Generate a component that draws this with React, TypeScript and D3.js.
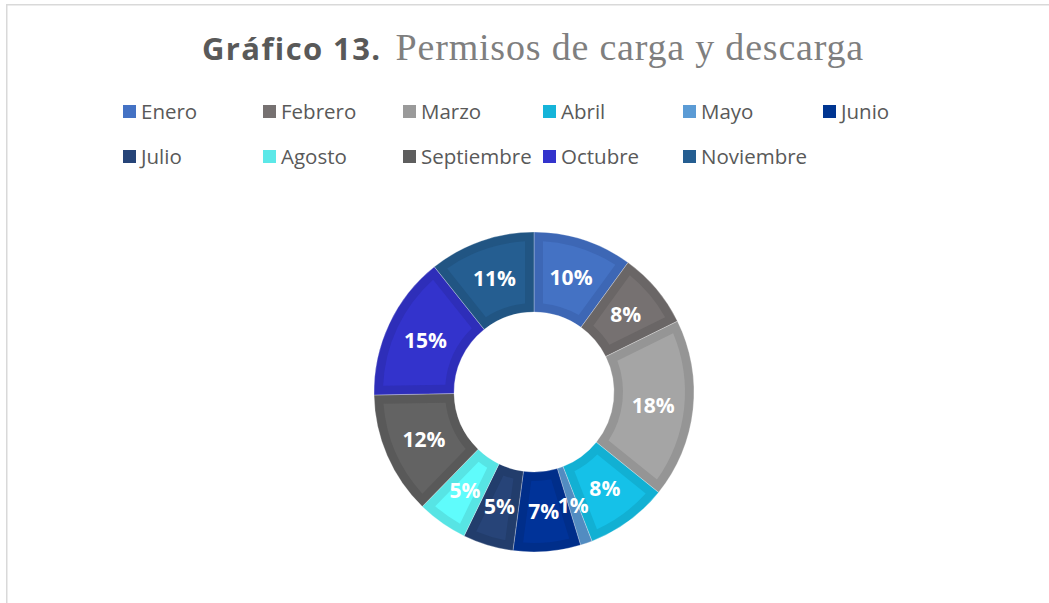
import React from "react";
import * as d3 from "d3";

const months = ["Enero", "Febrero", "Marzo", "Abril", "Mayo", "Junio", "Julio", "Agosto", "Septiembre", "Octubre", "Noviembre"];
const values = [10, 7.7, 18.1, 8.3, 1.2, 6.8, 5.1, 5.1, 12.4, 14.6, 10.7];
const innerColors = ["#4472C4", "#767171", "#A5A5A5", "#15C1E8", "#5B9BD5", "#003399", "#274478", "#5FFCFC", "#636363", "#3333CC", "#255E91"];
const outerColors = ["#3D67B5", "#6A6666", "#959595", "#12B0D3", "#528CC1", "#002E8A", "#223D6C", "#57E4E4", "#595959", "#2E2EB9", "#215583"];
const legendColors = ["#4472C4", "#767171", "#9A9A9A", "#15B4D9", "#5B9BD5", "#003591", "#264478", "#5CE8E8", "#5E5E5E", "#3333CC", "#255E91"];

const W = 1049, H = 603;
const cx = 534, cy = 392, rO = 160, rI = 80, band = 9;

export default function App() {
  const total = d3.sum(values);
  const pie = d3.pie<number>().sort(null).value((d) => d)(values);
  const arcOuter = d3.arc<d3.PieArcDatum<number>>().innerRadius(rI).outerRadius(rO);
  const arcInner = d3
    .arc<d3.PieArcDatum<number>>()
    .innerRadius(rI + band)
    .outerRadius(rO - band)
    .padRadius(100)
    .padAngle((band * 2) / 100);
  const arcLabel = d3.arc<d3.PieArcDatum<number>>().innerRadius(rI).outerRadius(rO);

  const legendX = d3.scaleOrdinal<number, number>().domain([0, 1, 2, 3, 4, 5]).range([124, 264, 404, 544, 684, 824]);
  const legendY = [112, 157];

  return (
    <svg width={W} height={H} style={{ position: "absolute", left: 0, top: 0 }} xmlns="http://www.w3.org/2000/svg">
      <rect x={0} y={0} width={W} height={H} fill="#ffffff" />
      <path d={`M6.75,${H + 2} L6.75,4.75 L${W + 2},4.75`} fill="none" stroke="#d9d9d9" strokeWidth={1.5} />
      <text x={533} y={60} textAnchor="middle">
        <tspan fontFamily="'Open Sans', sans-serif" fontWeight="bold" fontSize={31} letterSpacing={1.4} fill="#595959">
          Gráfico 13.
        </tspan>
        <tspan fontFamily="'Liberation Serif', 'Times New Roman', serif" fontSize={38} fill="#7F7F7F" letterSpacing={0.8} dx={14}>
          Permisos de carga y descarga
        </tspan>
      </text>
      {months.map((m, i) => {
        const col = i % 6;
        const row = Math.floor(i / 6);
        const x = legendX(col);
        const y = legendY[row];
        return (
          <g key={m}>
            <rect x={x - 1} y={y - 7} width={13} height={13} fill={legendColors[i]} />
            <text x={x + 17} y={y + 7} fontFamily="'Open Sans', sans-serif" fontSize={20.5} fill="#595959">
              {m}
            </text>
          </g>
        );
      })}
      <g transform={`translate(${cx},${cy})`}>
        {pie.map((p, i) => (
          <path key={"o" + i} d={arcOuter(p) || ""} fill={outerColors[i]} stroke="#ffffff" strokeOpacity={0.35} strokeWidth={0.8} />
        ))}
        {pie.map((p, i) => (
          <path key={"i" + i} d={arcInner(p) || ""} fill={innerColors[i]} />
        ))}
        {pie.map((p, i) => {
          const [lx, ly] = arcLabel.centroid(p);
          return (
            <text
              key={"t" + i}
              x={lx}
              y={ly}
              dy="0.36em"
              textAnchor="middle"
              fontFamily="'Open Sans', sans-serif"
              fontWeight="bold"
              fontSize={21}
              fill="#ffffff"
            >
              {Math.round((p.data / total) * 100)}%
            </text>
          );
        })}
      </g>
    </svg>
  );
}
